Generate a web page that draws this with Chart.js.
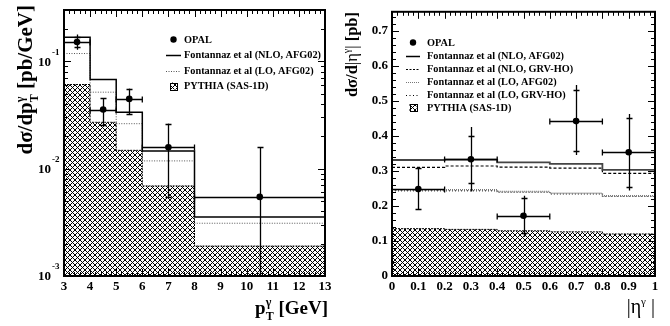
<!DOCTYPE html>
<html>
<head>
<meta charset="utf-8">
<script src="https://cdn.jsdelivr.net/npm/chart.js@4/dist/chart.umd.min.js"></script>
<style>
  html, body { margin: 0; padding: 0; background: #fff; }
  #wrap { position: relative; width: 670px; height: 326px; font-family: "Liberation Serif", serif; color: #000; overflow: hidden; }
  .pane { position: absolute; top: 0; width: 335px; height: 326px; }
  .pane canvas { display: block; }
  .ytitle { position: absolute; transform-origin: 0 0; transform: rotate(-90deg); text-align: right; white-space: nowrap; font-weight: bold; }
  .xtitle { position: absolute; white-space: nowrap; font-weight: bold; text-align: right; }
  .ss { display: inline-block; position: relative; width: 8px; height: 1px; }
  .ss .u { position: absolute; left: 0; top: -17px; font-size: 12px; line-height: 1; }
  .ss .d { position: absolute; left: 0; top: -3px; font-size: 12px; line-height: 1; }
  .sp { position: relative; top: -8px; font-size: 11px; }
  .nb { font-weight: normal; }
</style>
</head>
<body>
<div id="wrap">
  <div class="pane" style="left:0"><canvas id="ptChart" width="335" height="326"></canvas></div>
  <div class="pane" style="left:335px"><canvas id="etaChart" width="335" height="326"></canvas></div>

  <div class="ytitle" style="left:13px; top:255px; width:250px; height:24px; line-height:24px; font-size:21px;">dσ/dp<span class="ss"><span class="u">γ</span><span class="d">T</span></span> [pb/GeV]</div>
  <div class="xtitle" style="right:342px; top:297px; height:22px; line-height:22px; font-size:19px;">p<span class="ss"><span class="u">γ</span><span class="d">T</span></span> [GeV]</div>

  <div class="ytitle" style="left:341px; top:112px; width:100px; height:21px; line-height:21px; font-size:16.5px;">dσ/d<span class="nb">|η</span><span class="sp nb" style="font-size:10px; top:-7px;">γ</span><span class="nb">|</span> [pb]</div>
  <div class="xtitle nb" style="right:15px; top:295px; height:22px; line-height:22px; font-size:20px;">|η<span class="sp">γ</span> |</div>
</div>
<script>
// ---- p_T distribution (left) ----
const ptEdges = [3, 4, 5, 6, 8, 13];
const ptCenters = [3.5, 4.5, 5.5, 7, 10.5];
const ptOpal = [0.151, 0.0355, 0.0446, 0.0158, 0.00545];
const ptOpalStatHi = [0.167, 0.0456, 0.0557, 0.0263, 0.0158];
const ptOpalStatLo = [0.135, 0.0254, 0.0324, 0.0054, 0.0006];
const ptOpalTotHi = [0.177, 0.0456, 0.0557, 0.0263, 0.0158];
const ptOpalTotLo = [0.128, 0.0254, 0.0324, 0.0054, 0.0006];
const ptNloAfg = [0.167, 0.0676, 0.0335, 0.0146, 0.00355];
const ptLoAfg = [0.118, 0.0515, 0.0262, 0.0118, 0.0031];
const ptPythia = [0.0607, 0.027, 0.0148, 0.0069, 0.0019];
const ptTickLabels = [3, 4, 5, 6, 7, 8, 9, 10, 11, 12, 13];
const ptDecades = [1e-3, 1e-2, 1e-1];

// ---- |eta| distribution (right) ----
const etaEdges = [0, 0.2, 0.4, 0.6, 0.8, 1.0];
const etaCenters = [0.1, 0.3, 0.5, 0.7, 0.9];
const etaOpal = [0.248, 0.333, 0.172, 0.442, 0.353];
const etaOpalStatHi = [0.307, 0.400, 0.222, 0.530, 0.450];
const etaOpalStatLo = [0.190, 0.265, 0.122, 0.357, 0.254];
const etaOpalTotHi = [0.309, 0.425, 0.229, 0.545, 0.462];
const etaOpalTotLo = [0.189, 0.241, 0.112, 0.345, 0.244];
const etaNloAfg = [0.331, 0.332, 0.324, 0.320, 0.303];
const etaNloGrv = [0.310, 0.314, 0.311, 0.308, 0.293];
const etaLoAfg = [0.246, 0.246, 0.241, 0.236, 0.229];
const etaLoGrv = [0.243, 0.243, 0.239, 0.234, 0.227];
const etaPythia = [0.135, 0.133, 0.129, 0.126, 0.120];
const etaTickLabels = ['0', '0.1', '0.2', '0.3', '0.4', '0.5', '0.6', '0.7', '0.8', '0.9', '1'];
const etaYTickLabels = ['0', '0.1', '0.2', '0.3', '0.4', '0.5', '0.6', '0.7'];

Chart.defaults.font.family = '"Liberation Serif", serif';
const tickFont = { family: '"Liberation Serif", serif', weight: 'bold', size: 13 };

const snap = v => Math.round(v) + 0.5;

function histPoints(edges, vals) {
    const pts = vals.map((v, i) => ({ x: edges[i], y: v }));
    pts.push({ x: edges[edges.length - 1], y: vals[vals.length - 1] });
    return pts;
}

function makeHatch() {
    const c = document.createElement('canvas');
    c.width = 5; c.height = 5;
    const g = c.getContext('2d');
    g.fillStyle = '#fff';
    g.fillRect(0, 0, 5, 5);
    g.strokeStyle = '#000';
    g.lineWidth = 1;
    g.beginPath();
    for (const k of [-5, 0, 5]) {
        g.moveTo(k - 1, -1); g.lineTo(k + 6, 6);
        g.moveTo(k - 1, 6); g.lineTo(k + 6, -1);
    }
    g.stroke();
    return g.createPattern(c, 'repeat');
}
const hatch = makeHatch();

// inner ticks on all four sides + frame, ROOT style
function frameTicks(cfg) {
    return {
        id: 'frameTicks',
        afterDatasetsDraw(chart) {
            const { ctx, chartArea: a } = chart;
            const sx = chart.scales.x, sy = chart.scales.y;
            ctx.save();
            ctx.strokeStyle = '#000';
            ctx.lineWidth = 1;
            ctx.beginPath();
            const xt = (v, len) => {
                const p = snap(sx.getPixelForValue(v));
                ctx.moveTo(p, a.bottom); ctx.lineTo(p, a.bottom - len);
                ctx.moveTo(p, a.top); ctx.lineTo(p, a.top + len);
            };
            const yt = (v, len) => {
                const p = snap(sy.getPixelForValue(v));
                ctx.moveTo(a.left, p); ctx.lineTo(a.left + len, p);
                ctx.moveTo(a.right, p); ctx.lineTo(a.right - len, p);
            };
            cfg.xMajor.forEach(v => xt(v, 7));
            cfg.xMinor.forEach(v => xt(v, 4));
            cfg.yMajor.forEach(v => yt(v, 7));
            cfg.yMinor.forEach(v => yt(v, 4));
            ctx.stroke();
            ctx.lineWidth = 2;
            ctx.strokeRect(a.left, a.top, a.right - a.left, a.bottom - a.top);
            ctx.restore();
        }
    };
}

function errorBars(cfg) {
    return {
        id: 'errorBars',
        afterDatasetsDraw(chart) {
            const { ctx, chartArea: a } = chart;
            const sx = chart.scales.x, sy = chart.scales.y;
            ctx.save();
            ctx.beginPath();
            ctx.rect(a.left, a.top, a.right - a.left, a.bottom - a.top);
            ctx.clip();
            ctx.strokeStyle = '#000';
            ctx.lineWidth = 1.3;
            cfg.x.forEach((xv, i) => {
                const px = snap(sx.getPixelForValue(xv));
                const py = snap(sy.getPixelForValue(cfg.y[i]));
                const x0 = sx.getPixelForValue(cfg.xlo[i]);
                const x1 = sx.getPixelForValue(cfg.xhi[i]);
                const t1 = sy.getPixelForValue(cfg.totHi[i]);
                const t0 = sy.getPixelForValue(cfg.totLo[i]);
                const s1 = snap(sy.getPixelForValue(cfg.statHi[i]));
                const s0 = snap(sy.getPixelForValue(cfg.statLo[i]));
                ctx.beginPath();
                ctx.moveTo(x0, py); ctx.lineTo(x1, py);
                ctx.moveTo(x0, py - 3); ctx.lineTo(x0, py + 3);
                ctx.moveTo(x1, py - 3); ctx.lineTo(x1, py + 3);
                ctx.moveTo(px, t1); ctx.lineTo(px, t0);
                ctx.moveTo(px - 3, s1); ctx.lineTo(px + 3, s1);
                ctx.moveTo(px - 3, s0); ctx.lineTo(px + 3, s0);
                ctx.stroke();
            });
            ctx.restore();
        }
    };
}

function legendBox(cfg) {
    return {
        id: 'legendBox',
        afterDraw(chart) {
            const ctx = chart.ctx;
            ctx.save();
            ctx.font = 'bold 10.3px "Liberation Serif", serif';
            ctx.textBaseline = 'middle';
            ctx.fillStyle = '#000';
            cfg.entries.forEach((e, i) => {
                const y = cfg.rows[i];
                const cx = (cfg.x0 + cfg.x1) / 2;
                if (e.kind === 'dot') {
                    ctx.beginPath();
                    ctx.arc(cx, y, 3.2, 0, Math.PI * 2);
                    ctx.fill();
                } else if (e.kind === 'line') {
                    ctx.save();
                    ctx.strokeStyle = e.color;
                    ctx.lineWidth = e.width;
                    ctx.setLineDash(e.dash || []);
                    ctx.beginPath();
                    ctx.moveTo(cfg.x0, snap(y)); ctx.lineTo(cfg.x1, snap(y));
                    ctx.stroke();
                    ctx.restore();
                } else if (e.kind === 'box') {
                    ctx.save();
                    ctx.fillStyle = hatch;
                    ctx.fillRect(cx - 3.5, y - 3.5, 7, 7);
                    ctx.strokeStyle = '#000';
                    ctx.lineWidth = 1;
                    ctx.strokeRect(Math.round(cx - 3.5) + 0.5, Math.round(y - 3.5) + 0.5, 7, 7);
                    ctx.restore();
                }
                ctx.fillText(e.label, cfg.tx, y + 0.5);
            });
            ctx.restore();
        }
    };
}

// 10^-n labels on the log axis
const decadeLabels = {
    id: 'decadeLabels',
    afterDraw(chart) {
        const ctx = chart.ctx;
        const sy = chart.scales.y;
        const a = chart.chartArea;
        ctx.save();
        ctx.fillStyle = '#000';
        ctx.textBaseline = 'middle';
        ptDecades.forEach(v => {
            const y = sy.getPixelForValue(v);
            ctx.font = 'bold 13px "Liberation Serif", serif';
            ctx.textAlign = 'right';
            ctx.fillText('10', a.left - 13, y + 1);
            ctx.font = 'bold 9px "Liberation Serif", serif';
            ctx.textAlign = 'left';
            ctx.fillText('-' + Math.round(-Math.log10(v)), a.left - 12, y - 9);
        });
        ctx.restore();
    }
};

function range(a, b, step, skip) {
    const out = [];
    const n = Math.round((b - a) / step);
    for (let i = 0; i <= n; i++) {
        if (skip && i % skip === 0) continue;
        out.push(a + i * step);
    }
    return out;
}

const logMinor = [];
[1e-3, 1e-2, 1e-1].forEach(d => {
    for (let m = 2; m <= 9; m++) {
        if (m * d < 0.3) logMinor.push(m * d);
    }
});

new Chart(document.getElementById('ptChart'), {
    type: 'line',
    data: {
        datasets: [
            {
                label: 'OPAL',
                data: ptCenters.map((x, i) => ({ x: x, y: ptOpal[i] })),
                showLine: false,
                pointRadius: 3.3,
                pointBackgroundColor: '#000',
                pointBorderWidth: 0
            },
            {
                label: 'Fontannaz et al (NLO, AFG02)',
                data: histPoints(ptEdges, ptNloAfg),
                stepped: true,
                borderColor: '#000',
                borderWidth: 1.5,
                pointRadius: 0,
                fill: false
            },
            {
                label: 'Fontannaz et al (LO, AFG02)',
                data: histPoints(ptEdges, ptLoAfg),
                stepped: true,
                borderColor: '#555',
                borderWidth: 1,
                borderDash: [1, 1.5],
                pointRadius: 0,
                fill: false
            },
            {
                label: 'PYTHIA (SAS-1D)',
                data: histPoints(ptEdges, ptPythia),
                stepped: true,
                borderColor: '#000',
                borderWidth: 1,
                borderDash: [2, 1],
                pointRadius: 0,
                fill: 'start',
                backgroundColor: hatch
            }
        ]
    },
    options: {
        responsive: false,
        animation: false,
        events: [],
        layout: { padding: { top: 10, right: 10, left: 0, bottom: 0 } },
        plugins: { legend: { display: false }, tooltip: { enabled: false } },
        scales: {
            x: {
                type: 'linear', min: 3, max: 13,
                grid: { display: false, drawTicks: false },
                border: { display: false },
                afterBuildTicks: s => { s.ticks = ptTickLabels.map(v => ({ value: v })); },
                afterFit: s => { s.height = 50; },
                ticks: { font: tickFont, color: '#000', padding: 3, maxRotation: 0, autoSkip: false, callback: v => String(v) }
            },
            y: {
                type: 'logarithmic', min: 0.001, max: 0.3,
                grid: { display: false, drawTicks: false },
                border: { display: false },
                ticks: { display: false },
                afterFit: s => { s.width = 64; }
            }
        }
    },
    plugins: [
        frameTicks({
            xMajor: ptTickLabels,
            xMinor: range(3, 13, 0.2, 5),
            yMajor: ptDecades,
            yMinor: logMinor
        }),
        errorBars({
            x: ptCenters, y: ptOpal,
            xlo: ptEdges.slice(0, 5), xhi: ptEdges.slice(1),
            statHi: ptOpalStatHi, statLo: ptOpalStatLo,
            totHi: ptOpalTotHi, totLo: ptOpalTotLo
        }),
        legendBox({
            x0: 166, x1: 181, tx: 184,
            rows: [39.5, 55, 70.5, 86],
            entries: [
                { kind: 'dot', label: 'OPAL' },
                { kind: 'line', color: '#000', width: 1.5, label: 'Fontannaz et al (NLO, AFG02)' },
                { kind: 'line', color: '#555', width: 1, dash: [1, 1.5], label: 'Fontannaz et al (LO, AFG02)' },
                { kind: 'box', label: 'PYTHIA (SAS-1D)' }
            ]
        }),
        decadeLabels
    ]
});

new Chart(document.getElementById('etaChart'), {
    type: 'line',
    data: {
        datasets: [
            {
                label: 'OPAL',
                data: etaCenters.map((x, i) => ({ x: x, y: etaOpal[i] })),
                showLine: false,
                pointRadius: 3.3,
                pointBackgroundColor: '#000',
                pointBorderWidth: 0
            },
            {
                label: 'Fontannaz et al (NLO, AFG02)',
                data: histPoints(etaEdges, etaNloAfg),
                stepped: true,
                borderColor: '#444',
                borderWidth: 1.8,
                pointRadius: 0,
                fill: false
            },
            {
                label: 'Fontannaz et al (NLO, GRV-HO)',
                data: histPoints(etaEdges, etaNloGrv),
                stepped: true,
                borderColor: '#000',
                borderWidth: 1.2,
                borderDash: [3, 2],
                pointRadius: 0,
                fill: false
            },
            {
                label: 'Fontannaz et al (LO, AFG02)',
                data: histPoints(etaEdges, etaLoAfg),
                stepped: true,
                borderColor: '#777',
                borderWidth: 1.5,
                borderDash: [1, 1],
                pointRadius: 0,
                fill: false
            },
            {
                label: 'Fontannaz et al (LO, GRV-HO)',
                data: histPoints(etaEdges, etaLoGrv),
                stepped: true,
                borderColor: '#000',
                borderWidth: 1,
                borderDash: [1, 2],
                pointRadius: 0,
                fill: false
            },
            {
                label: 'PYTHIA (SAS-1D)',
                data: histPoints(etaEdges, etaPythia),
                stepped: true,
                borderColor: '#000',
                borderWidth: 1,
                borderDash: [2, 1],
                pointRadius: 0,
                fill: 'origin',
                backgroundColor: hatch
            }
        ]
    },
    options: {
        responsive: false,
        animation: false,
        events: [],
        layout: { padding: { top: 10, right: 15, left: 0, bottom: 0 } },
        plugins: { legend: { display: false }, tooltip: { enabled: false } },
        scales: {
            x: {
                type: 'linear', min: 0, max: 1,
                grid: { display: false, drawTicks: false },
                border: { display: false },
                afterBuildTicks: s => { s.ticks = etaTickLabels.map(t => ({ value: parseFloat(t) })); },
                afterFit: s => { s.height = 50; },
                ticks: { font: tickFont, color: '#000', padding: 3, maxRotation: 0, autoSkip: false,
                    callback: (v, i) => etaTickLabels[i] }
            },
            y: {
                type: 'linear', min: 0, max: 0.754,
                grid: { display: false, drawTicks: false },
                border: { display: false },
                afterBuildTicks: s => { s.ticks = etaYTickLabels.map(t => ({ value: parseFloat(t) })); },
                afterFit: s => { s.width = 57; },
                ticks: { font: tickFont, color: '#000', padding: 4, autoSkip: false,
                    callback: (v, i) => etaYTickLabels[i] }
            }
        }
    },
    plugins: [
        frameTicks({
            xMajor: etaTickLabels.map(parseFloat),
            xMinor: range(0, 1, 0.02, 5),
            yMajor: etaYTickLabels.map(parseFloat),
            yMinor: range(0, 0.74, 0.02, 5)
        }),
        errorBars({
            x: etaCenters, y: etaOpal,
            xlo: etaEdges.slice(0, 5), xhi: etaEdges.slice(1),
            statHi: etaOpalStatHi, statLo: etaOpalStatLo,
            totHi: etaOpalTotHi, totLo: etaOpalTotLo
        }),
        legendBox({
            x0: 71, x1: 85, tx: 92,
            rows: [42.5, 55.5, 68.5, 81.5, 94.5, 107.5],
            entries: [
                { kind: 'dot', label: 'OPAL' },
                { kind: 'line', color: '#000', width: 1.5, label: 'Fontannaz et al (NLO, AFG02)' },
                { kind: 'line', color: '#000', width: 1, dash: [2, 1.5], label: 'Fontannaz et al (NLO, GRV-HO)' },
                { kind: 'line', color: '#777', width: 1, dash: [1, 1], label: 'Fontannaz et al (LO, AFG02)' },
                { kind: 'line', color: '#000', width: 1, dash: [1, 2.5], label: 'Fontannaz et al (LO, GRV-HO)' },
                { kind: 'box', label: 'PYTHIA (SAS-1D)' }
            ]
        })
    ]
});
</script>
</body>
</html>
